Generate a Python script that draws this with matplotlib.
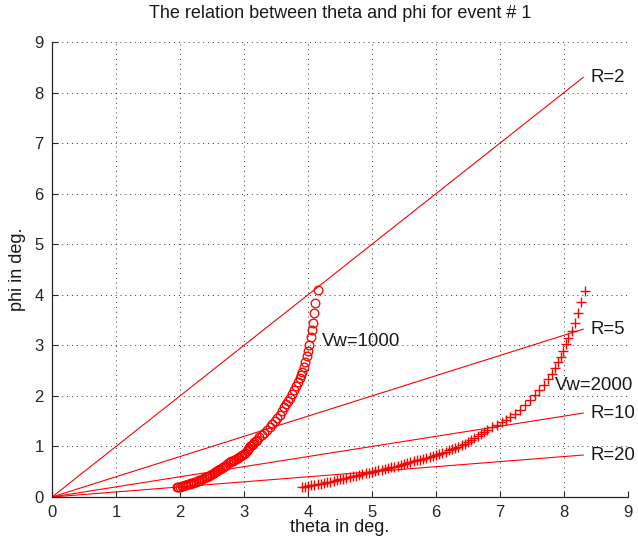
import matplotlib
matplotlib.use('Agg')
import matplotlib.pyplot as plt

# constant-R lines, drawn from the origin out to theta = 8.3
r_values = [2, 5, 10, 20]
r_end_theta = 8.3
r_end_phi = [8.3, 3.32, 1.66, 0.83]

# Vw = 1000 (circles)
vw1000_theta = [1.950, 1.975, 2.000, 2.025, 2.050, 2.075, 2.100, 2.125, 2.150, 2.175,
                2.200, 2.225, 2.250, 2.275, 2.300, 2.325, 2.350, 2.375, 2.400, 2.425,
                2.450, 2.475, 2.500, 2.525, 2.550, 2.575, 2.600, 2.625, 2.650, 2.675,
                2.700, 2.725, 2.750, 2.775, 2.800, 2.825, 2.850, 2.875, 2.900, 2.925,
                2.950, 2.975, 3.000, 3.02, 3.04, 3.06, 3.08, 3.10, 3.12, 3.14, 3.16,
                3.18, 3.20, 3.24, 3.28, 3.32, 3.36, 3.40, 3.44, 3.48, 3.52, 3.56,
                3.60, 3.63, 3.66, 3.69, 3.72, 3.75, 3.78, 3.81, 3.84, 3.87, 3.89, 3.91,
                3.93, 3.95, 3.98, 4.00, 4.02, 4.04, 4.06, 4.08, 4.10, 4.11, 4.15]
vw1000_phi = [0.19, 0.19, 0.20, 0.21, 0.22, 0.23, 0.24, 0.25, 0.26, 0.27,
              0.28, 0.29, 0.30, 0.31, 0.33, 0.34, 0.36, 0.37, 0.39, 0.40,
              0.42, 0.44, 0.46, 0.48, 0.50, 0.52, 0.54, 0.56, 0.58, 0.60,
              0.62, 0.64, 0.67, 0.69, 0.71, 0.72, 0.74, 0.76, 0.78, 0.80,
              0.82, 0.84, 0.86, 0.88, 0.91, 0.94, 0.97, 1.00, 1.03, 1.05, 1.08,
              1.10, 1.13, 1.18, 1.23, 1.27, 1.32, 1.38, 1.44, 1.50, 1.56, 1.63,
              1.71, 1.78, 1.84, 1.90, 1.96, 2.03, 2.11, 2.19, 2.28, 2.36, 2.42, 2.48,
              2.58, 2.67, 2.79, 2.89, 3.00, 3.16, 3.30, 3.44, 3.63, 3.84, 4.10]

# Vw = 2000 (plus signs)
vw2000_theta = [3.90, 3.95, 4.00, 4.05, 4.10, 4.15, 4.20, 4.25, 4.30, 4.35, 4.40, 4.45,
                4.50, 4.55, 4.60, 4.65, 4.70, 4.75, 4.80, 4.85, 4.90, 4.95, 5.00, 5.05,
                5.10, 5.15, 5.20, 5.25, 5.30, 5.35, 5.40, 5.45, 5.50, 5.55, 5.60, 5.65,
                5.70, 5.75, 5.80, 5.85, 5.90, 5.95, 6.00, 6.05, 6.10, 6.15, 6.20, 6.25,
                6.30, 6.35, 6.40, 6.45, 6.50, 6.55, 6.60, 6.65, 6.70, 6.75, 6.80,
                6.88, 6.96, 7.03, 7.10, 7.16, 7.23, 7.31, 7.39, 7.47, 7.55, 7.61, 7.68,
                7.75, 7.81, 7.86, 7.91, 7.95, 7.98, 8.03, 8.07, 8.12, 8.17, 8.22, 8.27,
                8.33]
vw2000_phi = [0.19, 0.20, 0.22, 0.23, 0.24, 0.25, 0.26, 0.27, 0.29, 0.30, 0.32, 0.33,
              0.35, 0.36, 0.38, 0.39, 0.41, 0.42, 0.44, 0.45, 0.47, 0.48, 0.50, 0.51,
              0.53, 0.54, 0.56, 0.57, 0.59, 0.60, 0.62, 0.64, 0.66, 0.67, 0.69, 0.71,
              0.73, 0.74, 0.76, 0.78, 0.80, 0.82, 0.84, 0.86, 0.88, 0.90, 0.92, 0.94,
              0.97, 0.99, 1.02, 1.05, 1.09, 1.12, 1.16, 1.20, 1.24, 1.28, 1.32,
              1.38, 1.43, 1.48, 1.53, 1.58, 1.65, 1.73, 1.82, 1.92, 2.02, 2.11, 2.21,
              2.33, 2.44, 2.56, 2.67, 2.77, 2.89, 3.02, 3.15, 3.29, 3.44, 3.63, 3.85,
              4.08]

ticks = list(range(10))

plt.rcParams['font.family'] = ['Liberation Sans', 'DejaVu Sans']

fig = plt.figure(figsize=(6.38, 5.42), dpi=100)
ax = fig.add_axes([52 / 638, 45 / 542, 576 / 638, 455 / 542])

for r, y_end in zip(r_values, r_end_phi):
    ax.plot([0, r_end_theta], [0, y_end], color='red', linewidth=0.8)
    ax.text(r_end_theta + 0.12, y_end, 'R=%d' % r, fontsize=13.4, va='center', ha='left',
            color='0.1')

ax.plot(vw1000_theta, vw1000_phi, linestyle='none', marker='o', markersize=6.2,
        markerfacecolor='none', markeredgecolor='red', markeredgewidth=0.95)
ax.plot(vw2000_theta, vw2000_phi, linestyle='none', marker='+', markersize=7.5,
        color='red', markeredgewidth=1.0)

ax.text(4.21, 3.07, 'Vw=1000', fontsize=13.4, va='center', ha='left', color='0.1')
ax.text(7.86, 2.21, 'Vw=2000', fontsize=13.4, va='center', ha='left', color='0.1')

ax.set_xlim(0, 9)
ax.set_ylim(0, 9)
ax.set_xticks(ticks)
ax.set_yticks(ticks)
ax.tick_params(direction='in', length=4, width=0.8, labelsize=12, pad=6, colors='0.15')

ax.grid(True, color='0.2', linestyle=(0, (1, 4)), linewidth=0.7)
ax.spines['top'].set_visible(False)
ax.spines['right'].set_visible(False)
for s in ['left', 'bottom']:
    ax.spines[s].set_linewidth(0.9)
    ax.spines[s].set_color('0.15')

ax.set_xlabel('theta in deg.', fontsize=13, color='0.1')
ax.set_ylabel('phi in deg.', fontsize=13, color='0.1')
ax.xaxis.set_label_coords(0.5, -0.048)
ax.yaxis.set_label_coords(-0.045, 0.5)

fig.text(340 / 638, 1 - 14 / 542, 'The relation between theta and phi for event # 1',
         fontsize=13, ha='center', va='center', color='0.1')

fig.savefig('out.png', dpi=100)
